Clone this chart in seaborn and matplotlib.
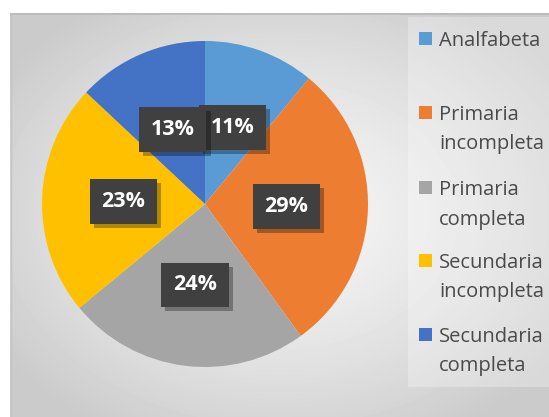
import numpy as np
import matplotlib
matplotlib.use("Agg")
import matplotlib.pyplot as plt
import matplotlib.patheffects as pe
from matplotlib.patches import Rectangle
import seaborn as sns

# Education level distribution
categories = ["Analfabeta", "Primaria\nincompleta", "Primaria\ncompleta",
              "Secundaria\nincompleta", "Secundaria\ncompleta"]
shares = [11, 29, 24, 23, 13]
colors = ["#5B9BD5", "#ED7D31", "#A5A5A5", "#FFC000", "#4472C4"]

sns.set_theme(style="white")
plt.rcParams["font.family"] = ["Open Sans", "DejaVu Sans"]

W, H = 549, 417
fig = plt.figure(figsize=(W / 100, H / 100), dpi=100)
fig.patch.set_facecolor("white")

def fx(px):
    return px / W

def fy(py):
    return 1 - py / H

# chart area with soft radial gradient
x0, y0 = 10, 13
bg = fig.add_axes([fx(x0), 0, 1 - fx(x0), fy(y0)])
bw, bh = W - x0, H - y0
yy, xx = np.mgrid[0:bh, 0:bw]
cx, cy = bw * 0.50, bh * 0.50
d = np.sqrt(((xx - cx) / (bw * 0.62)) ** 2 + ((yy - cy) / (bh * 0.62)) ** 2)
d = np.clip(d, 0, 1)
shade = 0.965 - 0.17 * d ** 1.4
bg.imshow(shade, cmap="gray", vmin=0, vmax=1, aspect="auto",
          extent=[0, bw, bh, 0], interpolation="bilinear")
bg.plot([0, bw], [0.5, 0.5], color="#b8b8b8", lw=1.2)
bg.plot([0.5, 0.5], [0, bh], color="#c4c4c4", lw=1.0)
bg.set_xlim(0, bw)
bg.set_ylim(bh, 0)
bg.axis("off")

# legend panel
bg.add_patch(Rectangle((408 - x0, 17 - y0), W, 387 - 17, facecolor="white",
                       alpha=0.28, edgecolor="none"))

# pie
R = 163
ax = fig.add_axes([fx(205 - R), fy(204 + R), 2 * R / W, 2 * R / H])
wedges, _, autotexts = ax.pie(
    shares, colors=colors, startangle=90, counterclock=False,
    autopct="%1.0f%%", pctdistance=0.5,
    wedgeprops=dict(linewidth=0),
)
ax.set_xlim(-1, 1)
ax.set_ylim(-1, 1)
ax.set_aspect("equal")
ax.axis("off")

for t in autotexts:
    t.set_color("white")
    t.set_fontsize(15.5)
    t.set_fontweight("bold")
    t.set_bbox(dict(boxstyle="square,pad=0.55", facecolor="#404040",
                    edgecolor="none", linewidth=0))
    t.get_bbox_patch().set_path_effects(
        [pe.withSimplePatchShadow(offset=(3, -3), shadow_rgbFace="black", alpha=0.3),
         pe.Normal()])

# legend entries
baselines = [46, 120, 195, 268, 342]
for name, col, base in zip(categories, colors, baselines):
    fig.patches.append(Rectangle((fx(419), fy(base - 1)), 13 / W, 13 / H,
                                 transform=fig.transFigure, facecolor=col,
                                 edgecolor="none"))
    for k, line in enumerate(name.split("\n")):
        fig.text(fx(439), fy(base + 29.5 * k), line, fontsize=14.5,
                 color="#4a4a4a", ha="left", va="baseline")

fig.savefig("out.png", dpi=100)
